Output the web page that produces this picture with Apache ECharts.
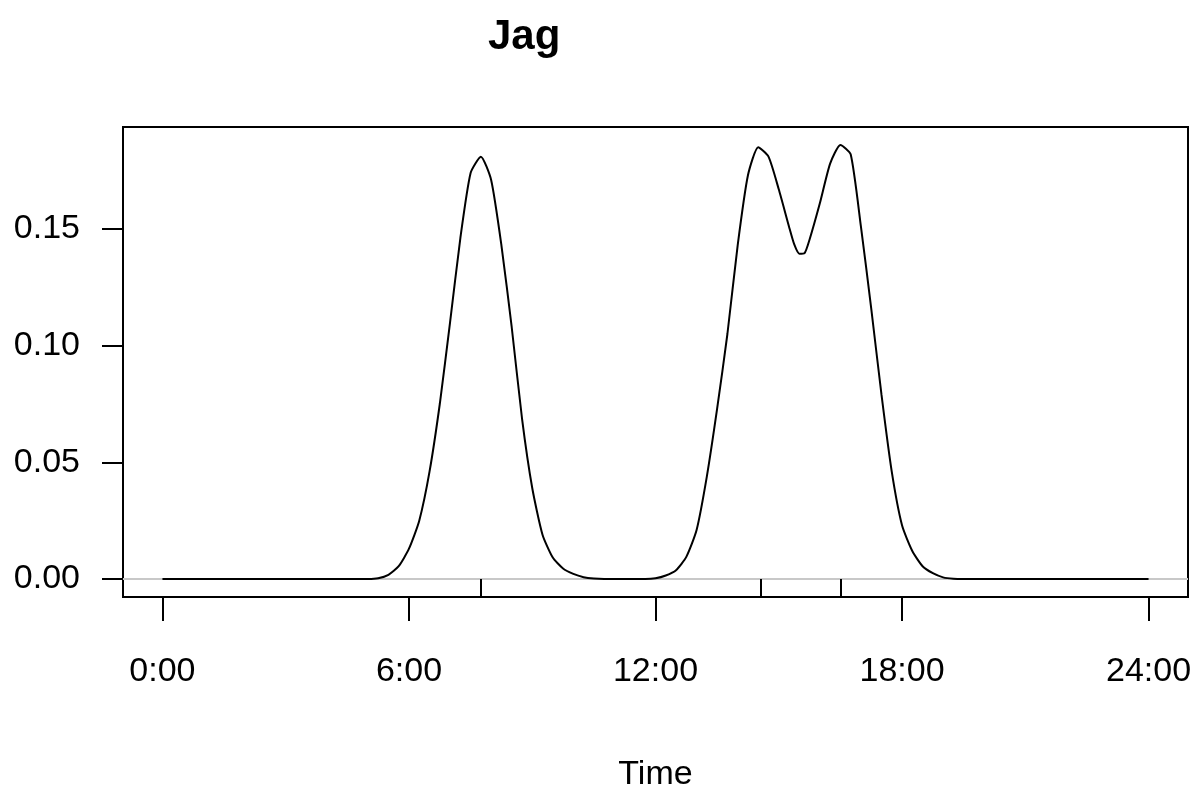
<!DOCTYPE html>
<html>
<head>
<meta charset="utf-8">
<title>Jag</title>
<script src="https://cdn.jsdelivr.net/npm/echarts@6/dist/echarts.min.js"></script>
<style>
  html, body { margin: 0; padding: 0; background: #fff; }
  #chart { width: 1200px; height: 793px; }
</style>
</head>
<body>
<div id="chart"></div>
<script>
// Activity density over the day (hours 0-24)
const hours = [
  0, 0.25, 0.5, 0.75, 1, 1.25, 1.5, 1.75, 2, 2.25, 2.5, 2.75,
  3, 3.25, 3.5, 3.75, 4, 4.25, 4.5, 4.75, 5, 5.25, 5.5, 5.75,
  6, 6.25, 6.5, 6.75, 7, 7.25, 7.5, 7.75, 8, 8.25, 8.5, 8.75,
  9, 9.25, 9.5, 9.75, 10, 10.25, 10.5, 10.75, 11, 11.25, 11.5, 11.75,
  12, 12.25, 12.5, 12.75, 13, 13.25, 13.5, 13.75, 14, 14.25, 14.5, 14.75,
  15, 15.25, 15.375, 15.5, 15.625, 15.75, 16, 16.25, 16.5, 16.75, 17, 17.25, 17.5, 17.75,
  18, 18.25, 18.5, 18.75, 19, 19.25, 19.5, 19.75, 20, 20.25, 20.5, 20.75,
  21, 21.25, 21.5, 21.75, 22, 22.25, 22.5, 22.75, 23, 23.25, 23.5, 23.75, 24
];
const density = [
  0, 0, 0, 0, 0, 0, 0, 0, 0, 0, 0, 0,
  0, 0, 0, 0, 0, 0, 0, 0, 0, 0.0003, 0.0018, 0.0055,
  0.013, 0.025, 0.046, 0.075, 0.110, 0.146, 0.174, 0.181, 0.171, 0.143, 0.108, 0.069,
  0.039, 0.019, 0.0092, 0.0045, 0.0022, 0.0008, 0.0002, 0, 0, 0, 0, 0,
  0.0003, 0.0015, 0.0038, 0.0095, 0.021, 0.044, 0.073, 0.105, 0.143, 0.173, 0.185, 0.181,
  0.167, 0.151, 0.1435, 0.1394, 0.1396, 0.1455, 0.161, 0.178, 0.186, 0.182, 0.151, 0.116, 0.079, 0.046,
  0.023, 0.012, 0.0055, 0.0025, 0.0007, 0.0001, 0, 0, 0, 0, 0, 0,
  0, 0, 0, 0, 0, 0, 0, 0, 0, 0, 0, 0, 0
];
// Short marks on the baseline at the activity peaks
const peakHours = [7.74, 14.56, 16.5];

const xTicks = [0, 6, 12, 18, 24];
const xTickLabels = ['0:00', '6:00', '12:00', '18:00', '24:00'];
const yTicks = [0, 0.05, 0.10, 0.15];
const yTickLabels = ['0.00', '0.05', '0.10', '0.15'];

const xMin = -0.96, xMax = 24.96;
const yMin = -0.0077, yMax = 0.1937;

const FONT = '"Liberation Sans", Arial, Helvetica, sans-serif';

const chart = echarts.init(document.getElementById('chart'), null, { renderer: 'canvas' });

const seriesData = hours.map((h, i) => [h, density[i]]);

chart.setOption({
  animation: false,
  backgroundColor: '#ffffff',
  graphic: [
    {
      type: 'text',
      left: 488,
      top: 16,
      style: {
        text: 'Jag',
        font: 'bold 42px ' + FONT,
        fill: '#000'
      }
    }
  ],
  grid: {
    left: 123, right: 12, top: 127, bottom: 196,
    outerBoundsMode: 'none',
    containLabel: false,
    show: true,
    borderColor: '#000',
    borderWidth: 2,
    backgroundColor: 'transparent'
  },
  xAxis: {
    type: 'value',
    min: xMin,
    max: xMax,
    name: 'Time',
    nameLocation: 'middle',
    nameGap: 161,
    nameTextStyle: { fontFamily: FONT, fontSize: 34, color: '#000' },
    axisLine: { show: true, onZero: false, lineStyle: { color: '#000', width: 2 } },
    axisTick: {
      show: true,
      customValues: xTicks,
      length: 24,
      lineStyle: { color: '#000', width: 2 }
    },
    axisLabel: {
      customValues: xTicks,
      margin: 58,
      fontFamily: FONT,
      fontSize: 34,
      color: '#000',
      formatter: v => xTickLabels[xTicks.indexOf(v)]
    },
    splitLine: { show: false }
  },
  yAxis: {
    type: 'value',
    min: yMin,
    max: yMax,
    axisLine: { show: true, onZero: false, lineStyle: { color: '#000', width: 2 } },
    axisTick: {
      show: true,
      customValues: yTicks,
      length: 21,
      lineStyle: { color: '#000', width: 2 }
    },
    axisLabel: {
      customValues: yTicks,
      margin: 43,
      fontFamily: FONT,
      fontSize: 34,
      color: '#000',
      formatter: v => {
        const i = yTicks.findIndex(t => Math.abs(t - v) < 1e-9);
        return i >= 0 ? yTickLabels[i] : '';
      }
    },
    splitLine: { show: false }
  },
  series: [
    {
      // grey zero line and peak marks, drawn beneath the curve
      type: 'line',
      data: [[xMin, 0], [xMax, 0]],
      symbol: 'none',
      silent: true,
      lineStyle: { color: '#c8c8c8', width: 2 },
      z: 1,
      markLine: {
        silent: true,
        symbol: 'none',
        label: { show: false },
        animation: false,
        lineStyle: { color: '#000', width: 2, type: 'solid' },
        data: peakHours.map(h => [{ coord: [h, 0] }, { coord: [h, yMin] }])
      }
    },
    {
      type: 'line',
      data: seriesData,
      smooth: 0.2,
      symbol: 'none',
      lineStyle: { color: '#000', width: 2 },
      z: 3
    }
  ]
});
</script>
</body>
</html>
